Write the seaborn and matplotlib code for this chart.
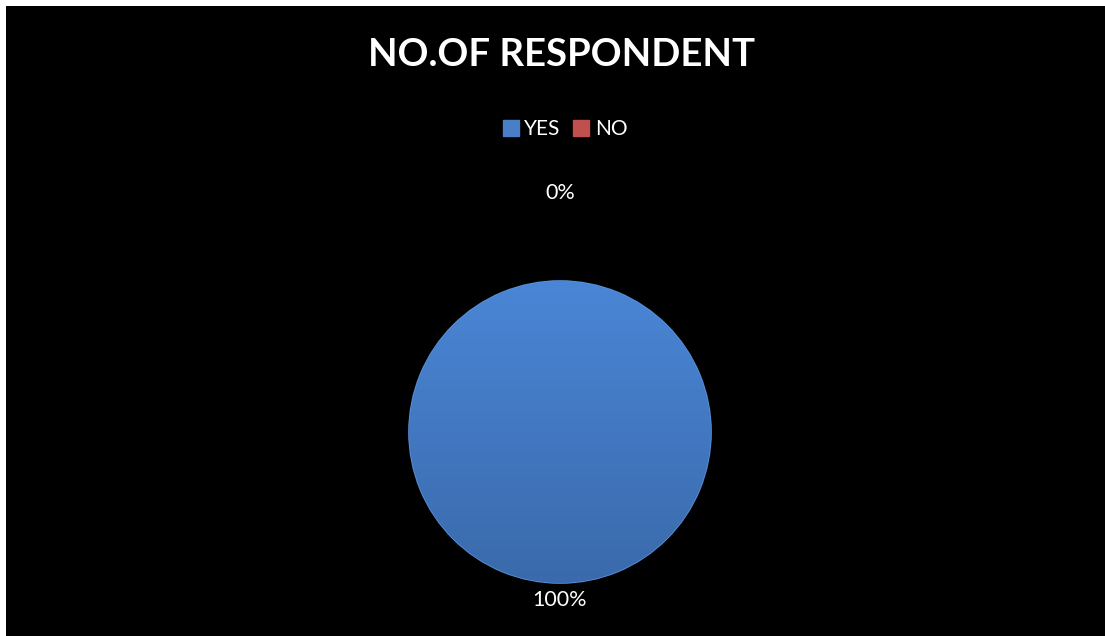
import numpy as np
import matplotlib
matplotlib.use("Agg")
import matplotlib.pyplot as plt
import seaborn as sns
from matplotlib.lines import Line2D

# data
categories = ["YES", "NO"]
respondents = [100, 0]
pct_labels = ["100%", "0%"]
colors = ["#4a7fc8", "#c0504d"]

sns.set_theme(style="dark")
plt.rcParams["font.family"] = ["Lato", "DejaVu Sans"]

fig = plt.figure(figsize=(11.05, 6.36), dpi=100)
fig.patch.set_facecolor("white")
# black chart area, thin white strip on left and top
bg = fig.add_axes([6 / 1105, 0, 1 - 6 / 1105, 1 - 6 / 636])
bg.set_facecolor("black")
bg.set_xticks([])
bg.set_yticks([])
for s in bg.spines.values():
    s.set_visible(False)

ax = fig.add_axes([(560 - 151) / 1105, (636 - 432 - 151) / 636, 302 / 1105, 302 / 636])
ax.set_facecolor("none")
wedges, texts = ax.pie(respondents, labels=pct_labels, colors=colors, startangle=90,
                       counterclock=False, labeldistance=1.11,
                       textprops=dict(color="white", fontsize=15.5),
                       wedgeprops=dict(linewidth=1.2, edgecolor="#5a92dc"))
# the 0% label sits further out
x, y = texts[1].get_position()
texts[1].set_position((x * 1.58 / 1.11, y * 1.58 / 1.11))
for t in texts:
    t.set_ha("center")
    t.set_va("center")

# vertical shading of the blue wedge
grad = np.linspace(0, 1, 256).reshape(-1, 1)
cmap = matplotlib.colors.LinearSegmentedColormap.from_list("b", ["#3a6aab", "#4a86d6"])
im = ax.imshow(grad, cmap=cmap, extent=[-1, 1, -1, 1], origin="lower", zorder=1.5)
im.set_clip_path(wedges[0])
ax.set_xlim(-1, 1)
ax.set_ylim(-1, 1)
ax.set_aspect("equal")
ax.axis("off")

fig.text(561 / 1105, 1 - 55 / 636, "NO.OF RESPONDENT", color="white", fontsize=27.5,
         fontweight="bold", ha="center", va="center")

handles = [Line2D([0], [0], marker="s", linestyle="", markersize=11,
                  markerfacecolor=c, markeredgecolor=c) for c in colors]
fig.legend(handles, categories, loc="center", bbox_to_anchor=(564 / 1105, 1 - 129 / 636),
           ncol=2, frameon=False, labelcolor="white", fontsize=15,
           handletextpad=0.15, columnspacing=0.5, handlelength=1.0)

fig.savefig("out.png", dpi=100, facecolor=fig.get_facecolor())
